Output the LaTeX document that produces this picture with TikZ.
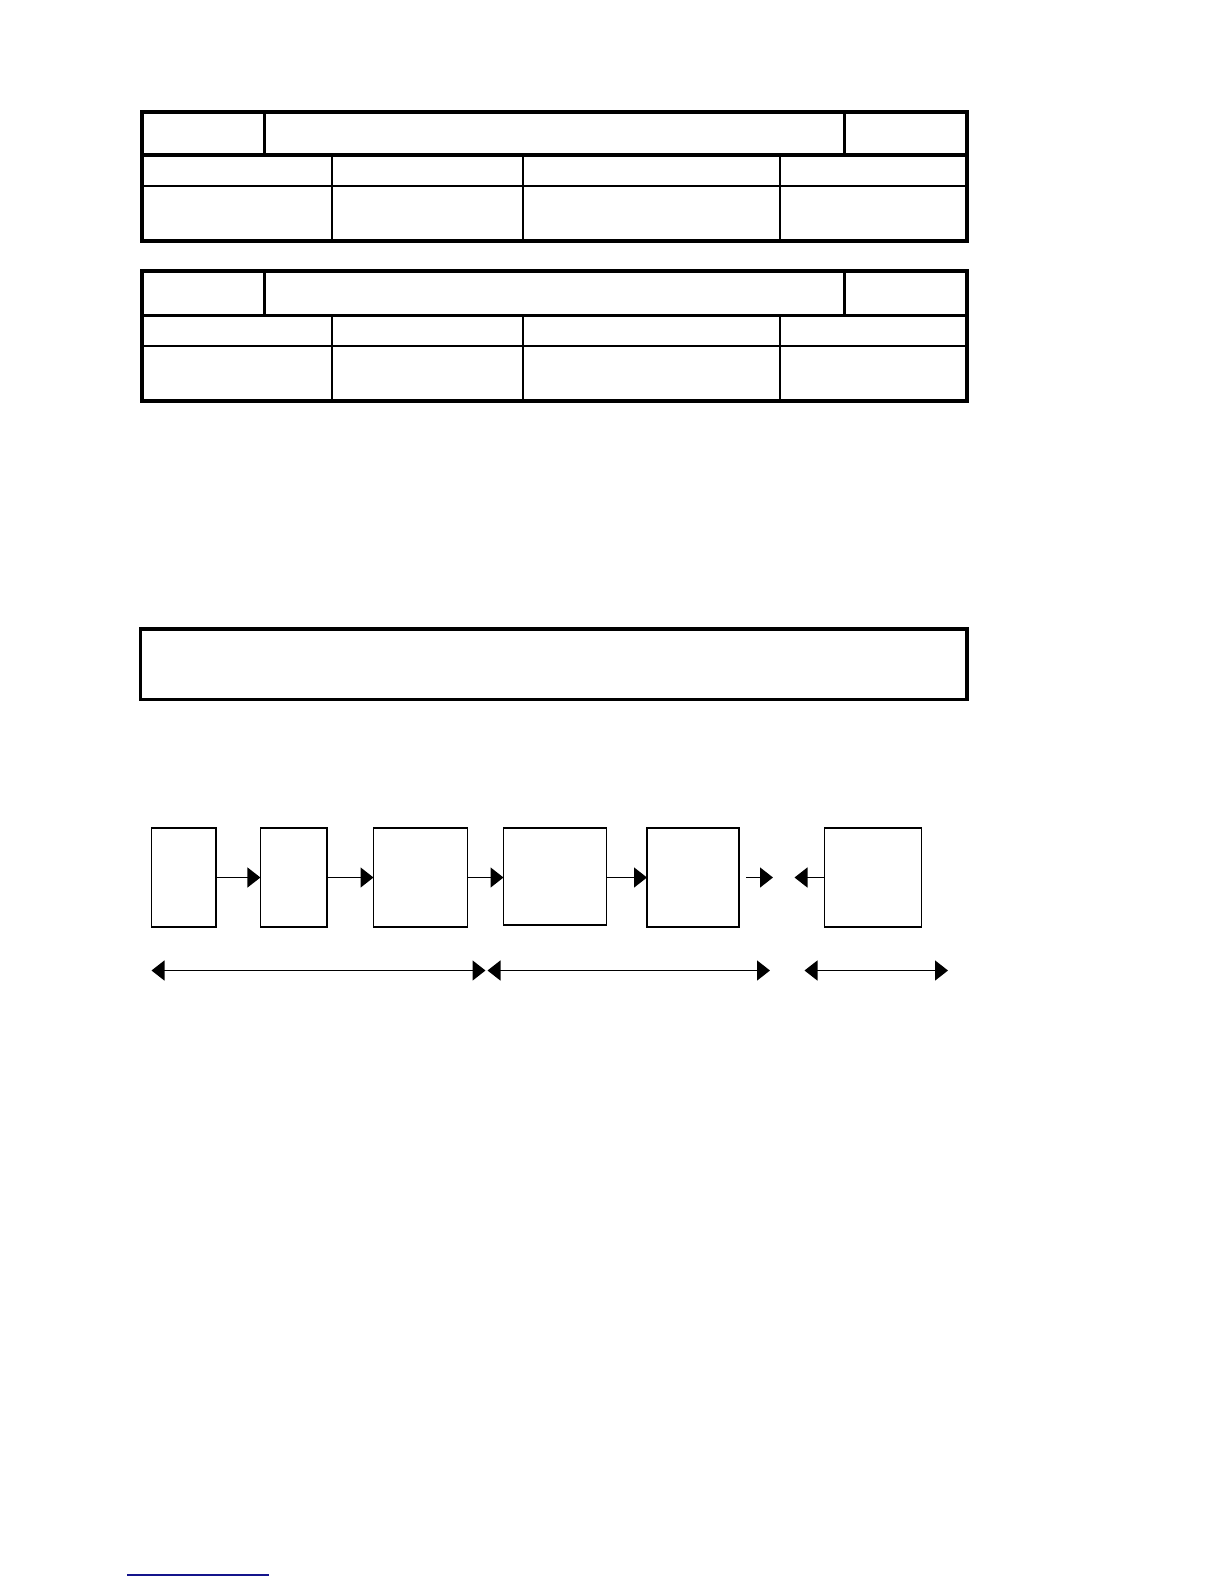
\documentclass[tikz,border=0pt]{standalone}
\usepackage{xcolor}
\usepackage{tikz}
\usetikzlibrary{arrows.meta,positioning,calc}

\definecolor{rulenavy}{RGB}{20,20,140}

\begin{document}
\begin{tikzpicture}[
    x=0.5pt, y=-0.5pt,
    frame/.style={draw, line width=2pt},
    rowline/.style={line width=1.6pt},
    midline/.style={line width=1pt},
    colline/.style={line width=0.6pt},
    stage/.style={rectangle, draw, line width=0.8pt, inner sep=0pt, outer sep=0pt,
                  minimum height=49.5pt},
    arr/.style={-{Triangle[length=6.5pt, width=10pt]}, line width=0.7pt},
    span/.style={{Triangle[length=6.5pt, width=10pt]}-{Triangle[length=6.5pt, width=10pt]}, line width=0.7pt},
  ]

  \useasboundingbox (0,0) rectangle (1224,1584);

  % === Tables ===
  \foreach \top/\ra/\rb/\bot in {112/155/186/240.5, 271/315.5/346/400.5}{
    \draw[frame] (142,\top) rectangle (967,\bot);
    \draw[rowline] (142,\ra) -- (967,\ra);
    \draw[midline] (142,\rb) -- (967,\rb);
    \draw[rowline] (264.5,\top) -- (264.5,\ra);
    \draw[rowline] (844.5,\top) -- (844.5,\ra);
    \foreach \cx in {332,523,780}
      \draw[colline] (\cx,\ra) -- (\cx,\bot);
  }

  % === Wide box ===
  \draw[frame, line width=1.7pt] (140.5,629) rectangle (967,699.5);

  % === Stages ===
  \node[stage, minimum width=32.3pt] (s1) at (183.7,877.5) {};
  \node[stage, minimum width=33.3pt] (s2) at (293.7,877.5) {};
  \node[stage, minimum width=47pt]   (s3) at (420.5,877.5) {};
  \node[stage, minimum width=51.5pt, minimum height=48.5pt] (s4) at (555,876.5) {};
  \node[stage, minimum width=46pt]   (s5) at (693,877.5) {};
  \node[stage, minimum width=48.5pt] (s6) at (873,877.5) {};

  \coordinate (g1) at (746,877.5);
  \coordinate (g2) at (773,877.5);
  \coordinate (g3) at (794.5,877.5);

  % Stage arrows
  \draw[arr] (s1.east) -- (s2.west);
  \draw[arr] (s2.east) -- (s3.west);
  \draw[arr] (s3.east) -- (s4.west |- s3.east);
  \draw[arr] (s4.east |- s5.west) -- (s5.west);
  \draw[arr] (g1) -- (g2);
  \draw[arr] (s6.west) -- (g3);

  % === Spans ===
  \coordinate (p1) at (151.5,970.5);
  \coordinate (p2) at (485.5,970.5);
  \coordinate (p3) at (487.5,970.5);
  \coordinate (p4) at (770,970.5);
  \coordinate (p5) at (804.5,970.5);
  \coordinate (p6) at (948,970.5);
  \draw[span] (p1) -- (p2);
  \draw[span] (p3) -- (p4);
  \draw[span] (p5) -- (p6);

  % === Footnote rule ===
  \coordinate (f1) at (127,1575);
  \coordinate (f2) at (269,1575);
  \draw[rulenavy, line width=0.6pt] (f1) -- (f2);

\end{tikzpicture}
\end{document}
